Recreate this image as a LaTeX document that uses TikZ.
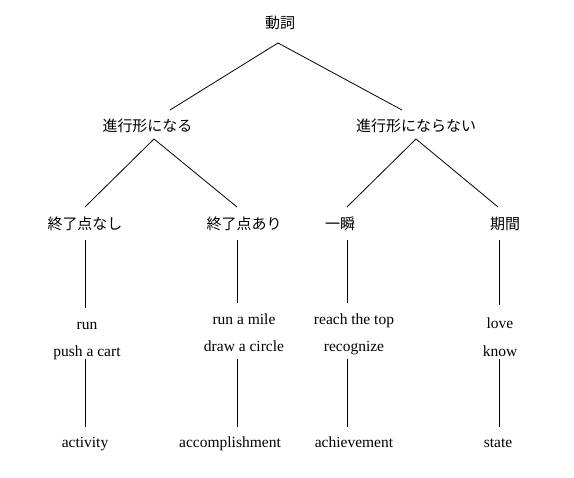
\documentclass[tikz,border=0pt]{standalone}
\usepackage{fontspec}
\setmainfont{Liberation Serif}
\newfontfamily\jpfont{Noto Sans CJK JP}
\begin{document}
\begin{tikzpicture}[x=1pt,y=1pt,
  jp/.style={anchor=base,inner sep=0pt,font=\jpfont\fontsize{15}{18}\selectfont},
  en/.style={anchor=base,inner sep=0pt,font=\fontsize{15.5}{18}\selectfont},
  edge/.style={draw=black,line width=0.8pt}]
\useasboundingbox[fill=white] (0,0) rectangle (574,478);
% level 0
\node[jp] (root) at (280,478-28.7) {動詞};
% level 1
\node[jp] (L) at (147.5,478-131.7) {進行形になる};
\node[jp] (R) at (416,478-131.7) {進行形にならない};
% level 2
\node[jp] (A) at (85,478-229.7) {終了点なし};
\node[jp] (B) at (244,478-229.7) {終了点あり};
\node[jp] (C) at (340,478-229.7) {一瞬};
\node[jp] (D) at (505,478-229.7) {期間};
% examples
\node[en] (a1) at (87,478-329.5) {run};
\node[en] (a2) at (87,478-356.5) {push a cart};
\node[en] (b1) at (244,478-324.5) {run a mile};
\node[en] (b2) at (244,478-351.5) {draw a circle};
\node[en] (c1) at (354,478-324.5) {reach the top};
\node[en] (c2) at (354,478-351.5) {recognize};
\node[en] (d1) at (500,478-328.5) {love};
\node[en] (d2) at (500,478-356.5) {know};
% classes
\node[en] (act) at (85,478-447.5) {activity};
\node[en] (acc) at (230,478-447.5) {accomplishment};
\node[en] (ach) at (354,478-447.5) {achievement};
\node[en] (sta) at (498,478-447.5) {state};
% edges
\draw[edge] ([shift={(-2,-14.3)}]root.base) -- ([shift={(22.5,21.7)}]L.base);
\draw[edge] ([shift={(-2,-14.3)}]root.base) -- ([shift={(-14,21.7)}]R.base);
\draw[edge] ([shift={(6.5,-7.3)}]L.base) -- ([shift={(0,22.7)}]A.base);
\draw[edge] ([shift={(6.5,-7.3)}]L.base) -- ([shift={(-7,22.7)}]B.base);
\draw[edge] ([shift={(0,-7.3)}]R.base) -- ([shift={(7,22.7)}]C.base);
\draw[edge] ([shift={(0,-7.3)}]R.base) -- ([shift={(-7,22.7)}]D.base);
\draw[edge] ([shift={(0,-10.3)}]A.base) -- ([shift={(-2,21.5)}]a1.base);
\draw[edge] ([shift={(-7,-10.3)}]B.base) -- ([shift={(-7,21.5)}]b1.base);
\draw[edge] ([shift={(7,-10.3)}]C.base) -- ([shift={(-7,21.5)}]c1.base);
\draw[edge] ([shift={(-6,-10.3)}]D.base) -- ([shift={(-1,23.5)}]d1.base);
\draw[edge] ([shift={(-2,-2.5)}]a2.base) -- ([shift={(0,20.5)}]act.base);
\draw[edge] ([shift={(-7,-7.5)}]b2.base) -- ([shift={(7,20.5)}]acc.base);
\draw[edge] ([shift={(-7,-7.5)}]c2.base) -- ([shift={(-7,20.5)}]ach.base);
\draw[edge] ([shift={(-1,-2.5)}]d2.base) -- ([shift={(1,20.5)}]sta.base);
\end{tikzpicture}
\end{document}
